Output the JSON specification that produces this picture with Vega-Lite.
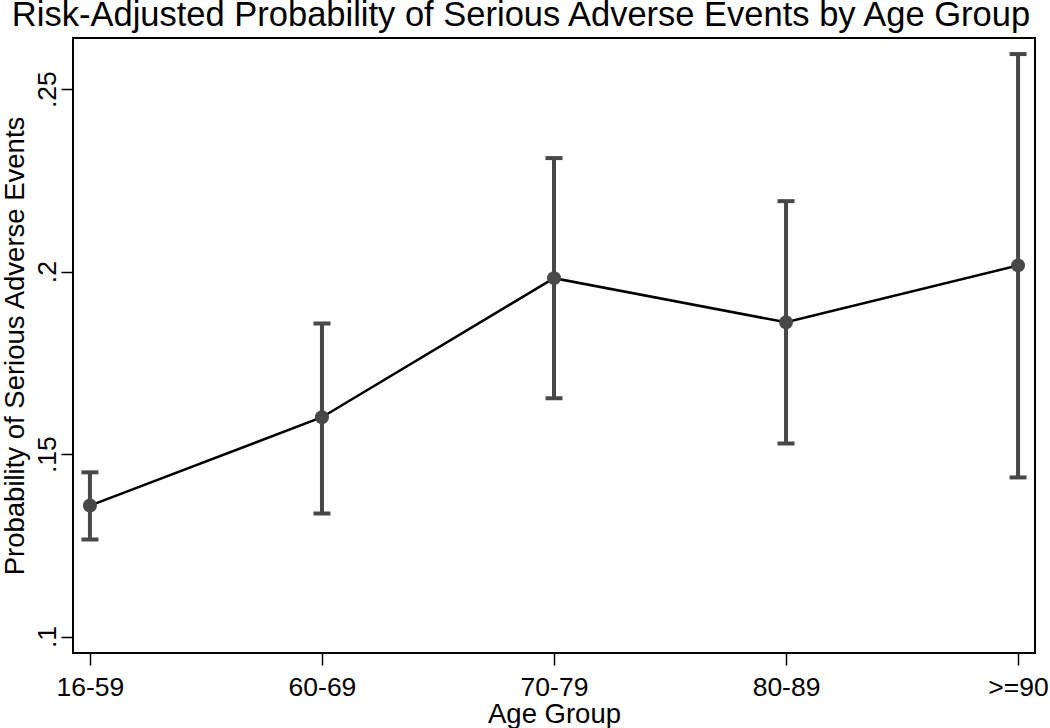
{
  "$schema": "https://vega.github.io/schema/vega-lite/v6.json",
  "width": 962,
  "height": 615,
  "autosize": {"type": "none"},
  "padding": {"left": 73, "top": 38, "right": 15, "bottom": 75},
  "background": "white",
  "config": {
    "view": {"stroke": "#000", "strokeWidth": 2},
    "font": "Liberation Sans"
  },
  "title": {
    "text": "Risk-Adjusted Probability of Serious Adverse Events by Age Group",
    "fontSize": 34.5,
    "font": "Liberation Sans",
    "fontWeight": "normal",
    "color": "#000",
    "anchor": "middle",
    "frame": "group",
    "dx": -33,
    "dy": 34,
    "baseline": "bottom",
    "offset": 5
  },
  "data": {
    "values": [
      {"group": "16-59", "p": 0.1359, "lo": 0.1266, "hi": 0.1450},
      {"group": "60-69", "p": 0.1601, "lo": 0.1337, "hi": 0.1858},
      {"group": "70-79", "p": 0.1982, "lo": 0.1653, "hi": 0.2311},
      {"group": "80-89", "p": 0.1861, "lo": 0.1529, "hi": 0.2193},
      {"group": ">=90", "p": 0.2017, "lo": 0.1436, "hi": 0.2596}
    ]
  },
  "encoding": {
    "x": {
      "field": "group",
      "type": "ordinal",
      "sort": null,
      "scale": {"type": "point", "padding": 0.073},
      "axis": {
        "title": "Age Group",
        "domain": false,
        "grid": false,
        "labelAngle": 0,
        "labelFont": "Liberation Sans",
        "labelFontSize": 26.5,
        "labelColor": "#000",
        "labelBaseline": "top",
        "labelPadding": 9,
        "tickSize": 12,
        "tickColor": "#000",
        "tickWidth": 1.5,
        "titleFont": "Liberation Sans",
        "titleFontSize": 27.5,
        "titleFontWeight": "normal",
        "titleColor": "#000",
        "titleBaseline": "alphabetic",
        "titleY": 69
      }
    }
  },
  "layer": [
    {
      "mark": {"type": "rule", "color": "#484848", "strokeWidth": 4},
      "encoding": {
        "y": {
          "field": "lo",
          "type": "quantitative",
          "scale": {"domain": [0.0955, 0.264], "zero": false, "nice": false},
          "axis": {
            "title": "Probability of Serious Adverse Events",
            "values": [0.1, 0.15, 0.2, 0.25],
            "labelExpr": "substring(toString(datum.value), 1)",
            "domain": false,
            "grid": false,
            "labelAngle": 270,
            "labelAlign": "center",
            "labelBaseline": "alphabetic",
            "labelPadding": 6,
            "labelFont": "Liberation Sans",
            "labelFontSize": 26.5,
            "labelColor": "#000",
            "tickSize": 12,
            "tickColor": "#000",
            "tickWidth": 1.5,
            "titleFont": "Liberation Sans",
            "titleFontSize": 27.5,
            "titleFontWeight": "normal",
            "titleColor": "#000",
            "titleAngle": 270,
            "titleAlign": "center",
            "titleBaseline": "alphabetic",
            "titleX": -50,
            "titleY": 307.5
          }
        },
        "y2": {"field": "hi"}
      }
    },
    {
      "mark": {"type": "tick", "color": "#484848", "opacity": 1, "size": 17, "thickness": 4, "orient": "horizontal"},
      "encoding": {"y": {"field": "lo", "type": "quantitative"}}
    },
    {
      "mark": {"type": "tick", "color": "#484848", "opacity": 1, "size": 17, "thickness": 4, "orient": "horizontal"},
      "encoding": {"y": {"field": "hi", "type": "quantitative"}}
    },
    {
      "mark": {"type": "line", "color": "#000", "strokeWidth": 2.5},
      "encoding": {"y": {"field": "p", "type": "quantitative"}}
    },
    {
      "mark": {"type": "circle", "color": "#484848", "opacity": 1, "size": 195},
      "encoding": {"y": {"field": "p", "type": "quantitative"}}
    }
  ]
}
